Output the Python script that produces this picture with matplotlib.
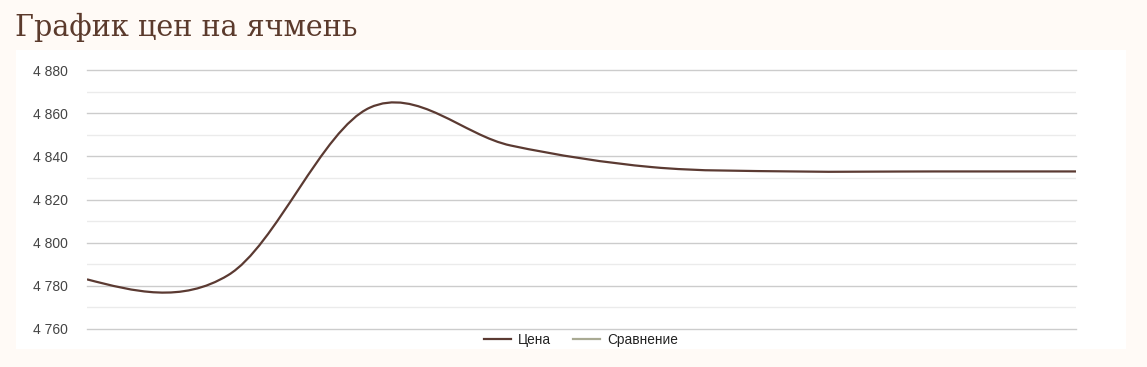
import matplotlib.pyplot as plt
from matplotlib.path import Path
from matplotlib.patches import PathPatch, Rectangle
from matplotlib.lines import Line2D
from matplotlib.ticker import MultipleLocator, FixedLocator, FuncFormatter

# weekly barley prices (8 points), second series has no data
price = [4783, 4785, 4862.5, 4845, 4835, 4833, 4833, 4833]
compare = []
title = "График цен на ячмень"
series_names = ["Цена", "Сравнение"]

bg = "#fffaf6"
brown = "#5b3a32"
grey_green = "#a9aa93"

fig = plt.figure(figsize=(11.47, 3.67), dpi=100, facecolor=bg)

# white card behind the chart
fig.patches.append(Rectangle((16 / 1147, 1 - 349 / 367), 1110 / 1147, 299 / 367,
                             transform=fig.transFigure, facecolor="white",
                             edgecolor="none", zorder=-5))

fig.text(15 / 1147, 1 - 36 / 367, title, fontsize=20.6, color="#5b3a2c",
         family="DejaVu Serif", va="baseline", ha="left")

ax = fig.add_axes([87 / 1147, 1 - 329 / 367, 989 / 1147, 259 / 367])
ax.set_facecolor("none")
ax.set_zorder(2)

# smooth curve (catmull-rom tangents, natural ends, drawn as cubic bezier)
n = len(price)
x = list(range(n))
tang = [0.0] * n
for i in range(1, n - 1):
    tang[i] = (price[i + 1] - price[i - 1]) / 2
tang[0] = (3 * (price[1] - price[0]) - tang[1]) / 2
tang[-1] = (3 * (price[-1] - price[-2]) - tang[-2]) / 2
verts = [(x[0], price[0])]
codes = [Path.MOVETO]
for i in range(n - 1):
    verts += [(x[i] + 1 / 3, price[i] + tang[i] / 3),
              (x[i + 1] - 1 / 3, price[i + 1] - tang[i + 1] / 3),
              (x[i + 1], price[i + 1])]
    codes += [Path.CURVE4] * 3
ax.add_patch(PathPatch(Path(verts, codes), facecolor="none", edgecolor=brown,
                       lw=1.6, zorder=3, capstyle="butt"))
ax.plot(range(len(compare)), compare, color=grey_green, lw=1.6)

ax.set_xlim(0, n - 1)
ax.set_ylim(4760, 4880)
ax.yaxis.set_major_locator(MultipleLocator(20))
ax.yaxis.set_minor_locator(FixedLocator([4770, 4790, 4810, 4830, 4850, 4870]))
ax.yaxis.set_major_formatter(FuncFormatter(lambda v, p: f"{v:,.0f}".replace(",", " ")))
ax.grid(which="major", axis="y", color="#cccccc", lw=1)
ax.grid(which="minor", axis="y", color="#ebebeb", lw=1)
for gl in ax.get_ygridlines():
    gl.set_clip_on(False)
ax.set_axisbelow(True)
ax.set_xticks([])
for s in ax.spines.values():
    s.set_visible(False)
ax.tick_params(axis="y", which="both", length=0, pad=14, labelsize=10, labelcolor="#444444")
for lbl in ax.get_yticklabels():
    lbl.set_family("Liberation Sans")

handles = [Line2D([], [], color=brown, lw=1.6), Line2D([], [], color=grey_green, lw=1.6)]
leg = fig.legend(handles, series_names, loc="center", bbox_to_anchor=(581 / 1147, 1 - 340 / 367),
                 ncol=2, frameon=False, handlelength=2.0, handletextpad=0.5, columnspacing=1.6,
                 prop={"family": "Liberation Sans", "size": 9.8})
for t in leg.get_texts():
    t.set_color("#222222")

fig.savefig("out.png", dpi=100, facecolor=bg)
